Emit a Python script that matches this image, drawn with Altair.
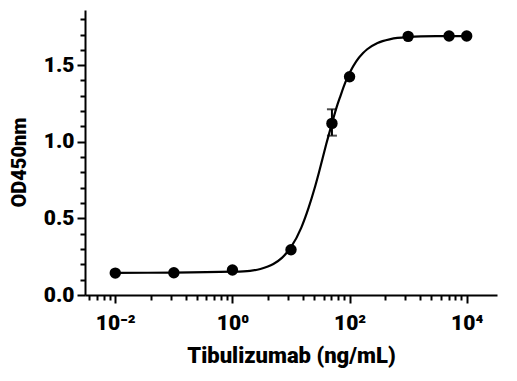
import altair as alt
import pandas as pd

# measured points (ng/mL, OD450)
conc = [0.01, 0.1, 1, 10, 50, 100, 1000, 5000, 10000]
od = [0.143, 0.145, 0.163, 0.295, 1.12, 1.424, 1.688, 1.69, 1.69]

# error bar at 50 ng/mL
err_x = [50]
err_lo = [1.04]
err_hi = [1.212]

# fitted curve
curve_x = [0.01, 0.1, 1, 2, 3, 5, 7, 10, 15, 20, 25, 30, 40, 50, 60, 70, 85,
           100, 130, 170, 200, 300, 500, 1000, 3000, 10000]
curve_y = [0.145, 0.146, 0.152, 0.158, 0.170, 0.202, 0.242, 0.312, 0.44, 0.57,
           0.69, 0.80, 0.985, 1.12, 1.225, 1.30, 1.389, 1.449, 1.525, 1.579,
           1.604, 1.645, 1.67, 1.683, 1.689, 1.69]

x_major = [0.01, 1, 100, 10000]
x_minor = [0.0036, 0.0049, 0.0064, 0.0081,
           0.04, 0.09, 0.16, 0.25, 0.36, 0.49, 0.64, 0.81,
           4, 9, 16, 25, 36, 49, 64, 81,
           400, 900, 1600, 2500, 3600, 4900, 6400, 8100]
y_major = [0.0, 0.5, 1.0, 1.5]
y_minor = [0.1, 0.2, 0.3, 0.4, 0.6, 0.7, 0.8, 0.9, 1.1, 1.2, 1.3, 1.4, 1.6, 1.7, 1.8]

pts = pd.DataFrame({"x": conc, "y": od})
crv = pd.DataFrame({"x": curve_x, "y": curve_y})
err = pd.DataFrame({"x": err_x, "lo": err_lo, "hi": err_hi})

FONT = "Roboto"
xscale = alt.Scale(type="log", domain=[0.00304, 32900], nice=False)
yscale = alt.Scale(domain=[0, 1.86], nice=False)

label_expr = ("datum.value < 0.1 ? '10⁻²' : datum.value < 10 ? '10⁰' : "
              "datum.value < 1000 ? '10²' : '10⁴'")

x_major_axis = alt.Axis(values=x_major, labelExpr=label_expr, orient="bottom",
                        title="Tibulizumab (ng/mL)", tickSize=8, labelPadding=9,
                        titlePadding=12, grid=False, labelFlush=False,
                        labelFontSize=21, titleFontSize=22)
y_major_axis = alt.Axis(values=y_major, format=".1f", orient="left", title="OD450nm",
                        tickSize=8, labelPadding=3, titlePadding=14, grid=False,
                        titleY=152, labelFontSize=21, titleFontSize=20)

x_minor_axis = alt.Axis(values=x_minor, labels=False, title=None, orient="bottom",
                        tickSize=5, domain=False, grid=False)
y_minor_axis = alt.Axis(values=y_minor, labels=False, title=None, orient="left",
                        tickSize=5, domain=False, grid=False)

curve = alt.Chart(crv).mark_line(color="black", strokeWidth=2.2, interpolate="monotone").encode(
    x=alt.X("x:Q", scale=xscale, axis=x_major_axis),
    y=alt.Y("y:Q", scale=yscale, axis=y_major_axis),
)

points = alt.Chart(pts).mark_circle(color="black", opacity=1, size=130).encode(
    x=alt.X("x:Q", scale=xscale, axis=x_minor_axis),
    y=alt.Y("y:Q", scale=yscale, axis=y_minor_axis),
)

err_rule = alt.Chart(err).mark_rule(color="black", strokeWidth=2).encode(
    x=alt.X("x:Q", scale=xscale, axis=None),
    y=alt.Y("lo:Q", scale=yscale, axis=None),
    y2="hi:Q",
)
cap_lo = alt.Chart(err).mark_tick(color="black", thickness=2, size=10, orient="horizontal").encode(
    x=alt.X("x:Q", scale=xscale, axis=None),
    y=alt.Y("lo:Q", scale=yscale, axis=None),
)
cap_hi = alt.Chart(err).mark_tick(color="black", thickness=2, size=10, orient="horizontal").encode(
    x=alt.X("x:Q", scale=xscale, axis=None),
    y=alt.Y("hi:Q", scale=yscale, axis=None),
)

chart = alt.layer(curve, points, err_rule, cap_lo, cap_hi).resolve_axis(
    x="independent", y="independent"
).properties(
    width=412, height=285,
    autosize=alt.AutoSizeParams(type="none"),
    padding={"left": 77, "top": 2, "right": 12, "bottom": 78},
).configure_view(stroke=None).configure_axis(
    domainColor="black", domainWidth=2, tickColor="black", tickWidth=2,
    labelColor="black", titleColor="black",
    labelFont=FONT, titleFont=FONT, labelFontWeight=900, titleFontWeight=900,
)

chart.save("out.html", embed_options={"renderer": "svg", "actions": False})
